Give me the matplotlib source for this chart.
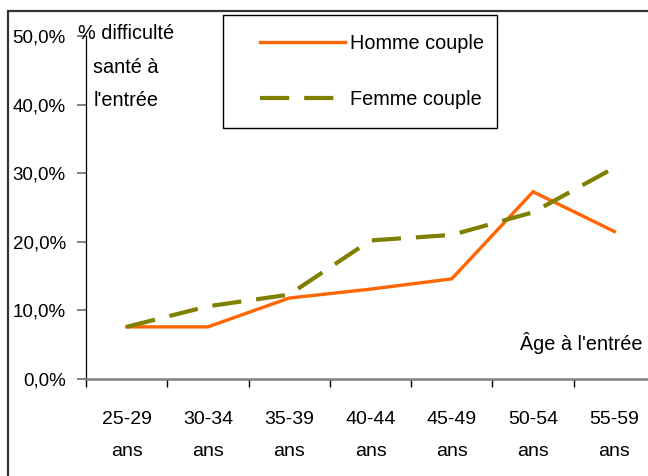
import matplotlib
matplotlib.use("Agg")
import matplotlib.pyplot as plt
from matplotlib.patches import Rectangle
from matplotlib.ticker import FuncFormatter, FixedLocator

# tranches d'age a l'entree
categories = ["25-29\nans", "30-34\nans", "35-39\nans", "40-44\nans",
              "45-49\nans", "50-54\nans", "55-59\nans"]
# part (%) avec difficulte de sante a l'entree
homme_couple = [7.6, 7.6, 11.8, 13.1, 14.6, 27.3, 21.5]
femme_couple = [7.6, 10.6, 12.3, 20.2, 21.0, 24.3, 30.8]
y_ticks = [0, 10, 20, 30, 40, 50]

W, H = 648, 476
plt.rcParams['font.family'] = ['Liberation Sans', 'DejaVu Sans']

fig = plt.figure(figsize=(W / 100, H / 100), dpi=100)


def fx(px):
    return px / W


def fy(py):
    return 1 - py / H


ax = fig.add_axes([fx(86), fy(379), 569 / W, (379 - 36) / H])
x = list(range(len(categories)))
ax.plot(x, homme_couple, color='#FF6600', lw=2.4, label='Homme couple',
        solid_joinstyle='miter')
ax.plot(x, femme_couple, color='#808000', lw=3.0, dashes=(7, 3.6),
        label='Femme couple')

ax.set_xlim(-0.5, len(categories) - 0.5)
ax.set_ylim(0, 50)
ax.set_yticks(y_ticks)
ax.yaxis.set_major_formatter(FuncFormatter(lambda v, p: f"{v:.1f}%".replace('.', ',')))
ax.tick_params(axis='y', direction='out', length=6.5, width=1.4, color='#808080',
               labelsize=13.5, pad=8)

ax.set_xticks(x)
ax.set_xticklabels(categories, fontsize=14, linespacing=2.15)
ax.xaxis.set_minor_locator(FixedLocator([i - 0.5 for i in range(len(categories) + 1)]))
ax.tick_params(axis='x', which='major', length=0, pad=23)
ax.tick_params(axis='x', which='minor', direction='out', length=5.8, width=1, color='black')

for s in ['top', 'right']:
    ax.spines[s].set_visible(False)
ax.spines['left'].set_color('black')
ax.spines['left'].set_linewidth(0.9)
ax.spines['bottom'].set_color('#808080')
ax.spines['bottom'].set_linewidth(1.8)

# titre de l'axe y
fig.text(fx(126), fy(24), "% difficulté\nsanté à\nl'entrée", ha='center', va='top',
         ma='center', fontsize=14.3, linespacing=1.98)
# titre de l'axe x
fig.text(fx(643), fy(343), "Âge à l'entrée", ha='right', va='center', fontsize=14.3)

# legende
leg = ax.legend(loc='upper left', bbox_to_anchor=(fx(260), fy(34)),
                bbox_transform=fig.transFigure, frameon=False, fontsize=14.3,
                borderpad=0, borderaxespad=0, handlelength=4.27, handletextpad=0.25,
                labelspacing=1.85)
fig.patches.append(Rectangle((fx(223), fy(128)), (497 - 223) / W, (128 - 15) / H,
                             transform=fig.transFigure, fill=False, ec='black', lw=1.0))

# cadre du graphique
fig.patches.append(Rectangle((fx(8), -0.5), 2, fy(11) + 0.5, transform=fig.transFigure,
                             fill=False, ec='#333333', lw=1.6, clip_on=False))

fig.savefig('out.png', dpi=100)
